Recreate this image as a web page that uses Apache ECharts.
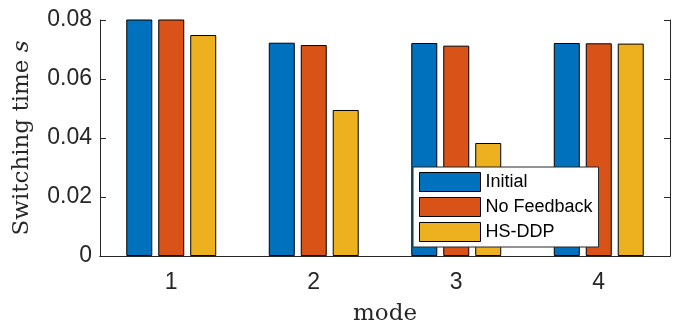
<!DOCTYPE html>
<html>
<head>
<meta charset="utf-8">
<script src="https://cdn.jsdelivr.net/npm/echarts@6/dist/echarts.min.js"></script>
<style>
  html, body { margin: 0; padding: 0; background: #fff; }
  #main { width: 681px; height: 329px; }
</style>
</head>
<body>
<div id="main"></div>
<script>
// data
var modes = ['1', '2', '3', '4'];
var initial = [0.085, 0.0723, 0.0722, 0.0722];
var noFeedback = [0.085, 0.0715, 0.0713, 0.0721];
var hsddp = [0.0749, 0.0495, 0.0383, 0.0720];
var yTicks = [0, 0.02, 0.04, 0.06, 0.08];

var axisColor = '#262626';
var chart = echarts.init(document.getElementById('main'));

function bar(name, data, color) {
  return {
    name: name,
    type: 'bar',
    data: data,
    barWidth: 26,
    barGap: '23%',
    clip: true,
    itemStyle: { color: color, borderColor: '#000', borderWidth: 1 }
  };
}

chart.setOption({
  animation: false,
  grid: { left: 100, right: 11, top: 20, bottom: 73, containLabel: false, outerBoundsMode: 'none' },
  legend: {
    orient: 'vertical',
    left: 413,
    top: 167,
    padding: [5, 6, 5, 6],
    icon: 'rect',
    itemWidth: 61,
    itemHeight: 19,
    itemGap: 5,
    backgroundColor: '#fff',
    borderColor: axisColor,
    borderWidth: 1,
    borderRadius: 0,
    textStyle: { fontFamily: 'Liberation Sans', fontSize: 18, color: '#000' },
    itemStyle: { borderColor: '#000', borderWidth: 1 },
    data: ['Initial', 'No Feedback', 'HS-DDP']
  },
  xAxis: [
    {
      type: 'category',
      data: modes,
      name: 'mode',
      nameLocation: 'middle',
      nameGap: 47,
      nameTextStyle: { fontFamily: 'DejaVu Serif', fontSize: 23, color: axisColor },
      axisLine: { lineStyle: { color: axisColor, width: 1 } },
      axisTick: { inside: true, alignWithLabel: true, length: 6, lineStyle: { color: axisColor } },
      axisLabel: { fontFamily: 'Liberation Sans', fontSize: 23, color: axisColor, margin: 15 },
      splitLine: { show: false }
    },
    {
      type: 'category',
      data: modes,
      position: 'top',
      axisLine: { lineStyle: { color: axisColor, width: 1 } },
      axisTick: { inside: true, alignWithLabel: true, length: 6, lineStyle: { color: axisColor } },
      axisLabel: { show: false }
    }
  ],
  yAxis: [
    {
      type: 'value',
      min: 0,
      max: 0.08,
      interval: 0.02,
      name: '{a|Switching time }{b|s}',
      nameLocation: 'middle',
      nameGap: 66,
      nameTextStyle: {
        rich: {
          a: { fontFamily: 'DejaVu Serif', fontSize: 23, color: axisColor },
          b: { fontFamily: 'DejaVu Serif', fontStyle: 'italic', fontSize: 23, color: axisColor }
        }
      },
      axisLine: { show: true, lineStyle: { color: axisColor, width: 1 } },
      axisTick: { show: true, inside: true, length: 6, lineStyle: { color: axisColor } },
      axisLabel: {
        fontFamily: 'Liberation Sans', fontSize: 23, color: axisColor, margin: 8,
        formatter: function (v) { return yTicks.indexOf(v) >= 0 && v !== 0 ? v.toFixed(2) : String(v); }
      },
      splitLine: { show: false }
    },
    {
      type: 'value',
      min: 0,
      max: 0.08,
      interval: 0.02,
      position: 'right',
      axisLine: { show: true, lineStyle: { color: axisColor, width: 1 } },
      axisTick: { show: true, inside: true, length: 6, lineStyle: { color: axisColor } },
      axisLabel: { show: false },
      splitLine: { show: false }
    }
  ],
  series: [
    bar('Initial', initial, '#0072BD'),
    bar('No Feedback', noFeedback, '#D95319'),
    bar('HS-DDP', hsddp, '#EDB120')
  ]
});
</script>
</body>
</html>
